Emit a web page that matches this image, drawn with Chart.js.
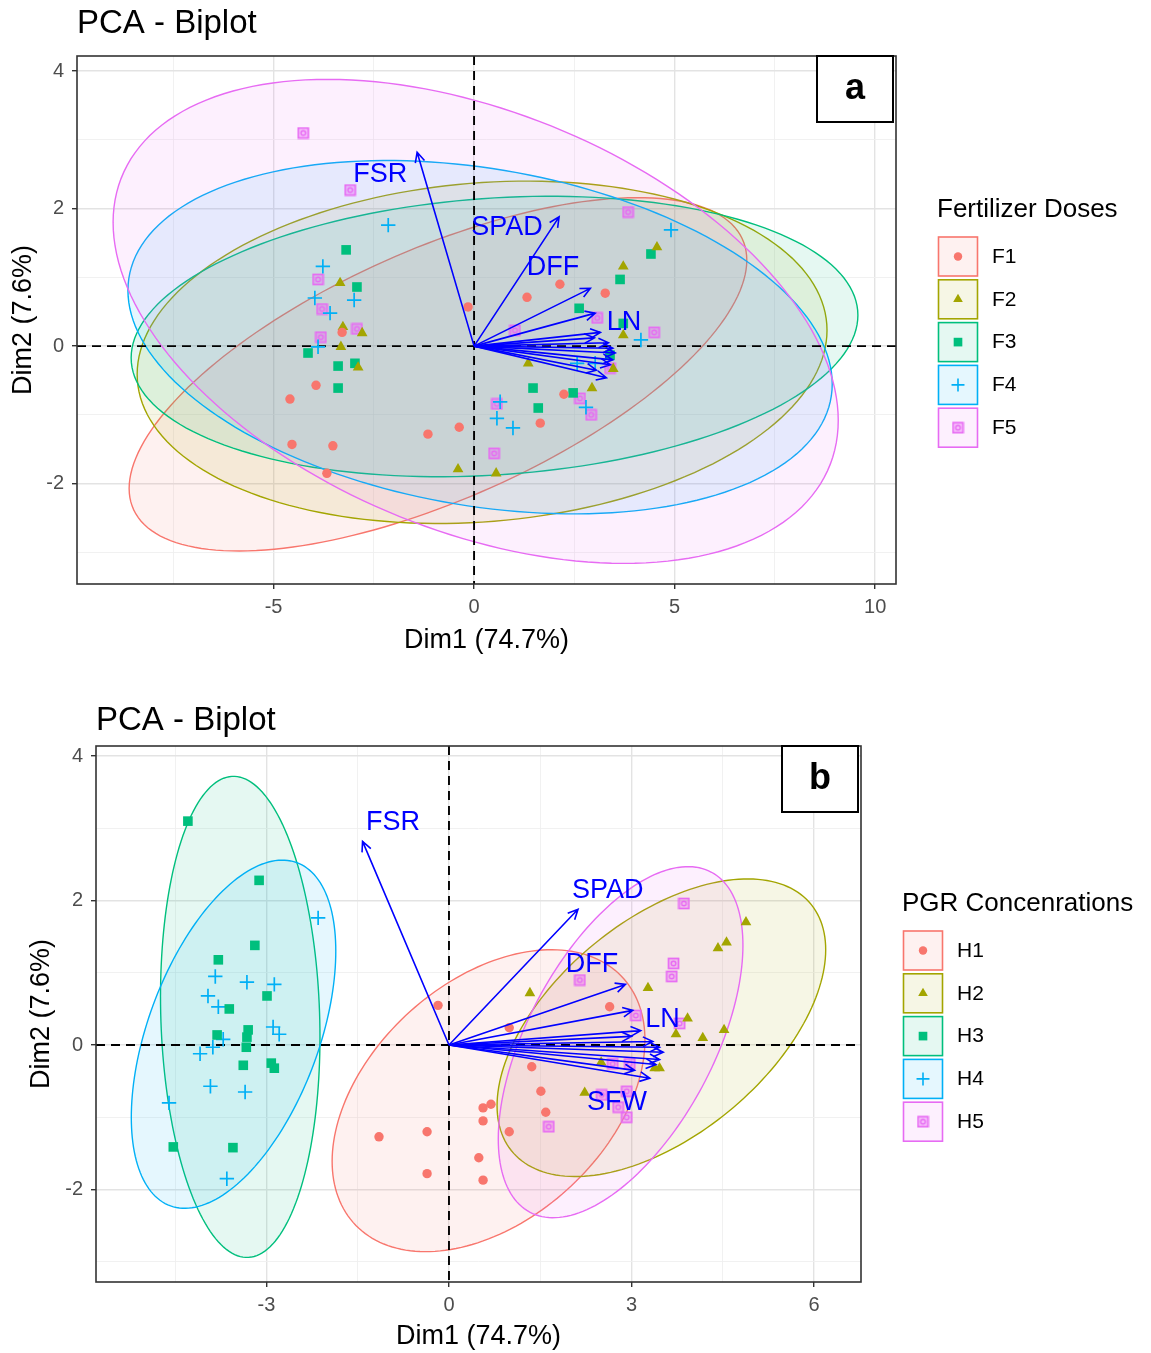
<!DOCTYPE html>
<html>
<head>
<meta charset="utf-8">
<title>PCA - Biplot</title>
<script src="https://cdn.jsdelivr.net/npm/chart.js@4.4.0/dist/chart.umd.min.js"></script>
<style>
    body { margin: 0; background: #ffffff; }
    #wrap { position: relative; width: 1151px; height: 1353px; }
    #chartA { position: absolute; left: 0; top: 0; }
    #chartB { position: absolute; left: 0; top: 690px; }
</style>
</head>
<body>
<div id="wrap">
    <canvas id="chartA" width="1151" height="665"></canvas>
    <canvas id="chartB" width="1151" height="663"></canvas>
</div>
<script>
// ---- data (PCA coordinates, Dim1 / Dim2) ----

// panel a : individuals grouped by fertilizer dose
const fertLabels = ['F1', 'F2', 'F3', 'F4', 'F5'];
const fertF1 = [[-0.15, 0.57], [-3.29, 0.20], [-3.94, -0.57], [-4.59, -0.77], [-4.54, -1.43], [-3.52, -1.45], [-1.15, -1.28], [-0.37, -1.18], [-3.67, -1.85], [2.14, 0.90], [1.32, 0.71], [3.27, 0.77], [2.24, -0.70], [1.65, -1.12]];
const fertF2 = [[-3.34, 0.92], [-3.27, 0.28], [-2.79, 0.19], [-3.32, -0.01], [-2.89, -0.31], [-0.40, -1.79], [0.55, -1.85], [3.72, 1.16], [4.56, 1.44], [1.35, -0.25], [2.94, -0.61], [3.47, -0.33], [3.72, 0.16]];
const fertF3 = [[-3.19, 1.40], [-2.92, 0.86], [-4.14, -0.10], [-3.39, -0.29], [-2.97, -0.25], [-3.39, -0.61], [4.41, 1.34], [3.64, 0.97], [2.62, 0.55], [3.72, 0.33], [1.47, -0.61], [1.60, -0.90], [2.47, -0.68], [3.39, -0.13]];
const fertF4 = [[-2.14, 1.76], [-3.77, 1.16], [-3.97, 0.70], [-2.99, 0.67], [-3.59, 0.48], [-3.89, -0.01], [4.91, 1.69], [4.16, 0.09], [2.57, -0.25], [3.02, -0.25], [0.65, -0.81], [0.57, -1.05], [0.97, -1.19], [2.79, -0.89]];
const fertF5 = [[-4.26, 3.10], [-3.09, 2.27], [-3.89, 0.97], [-3.79, 0.54], [-2.92, 0.25], [-3.82, 0.13], [3.84, 1.95], [1.02, 0.23], [3.07, 0.41], [4.49, 0.20], [0.57, -0.84], [2.64, -0.76], [2.92, -1.00], [0.50, -1.56], [3.39, -0.32]];

// ellipses of panel a: centre, half width, half height, y offset at the rightmost point
const fertEllCx = [-0.90, 0.20, 0.51, 0.15, 0.04];
const fertEllCy = [-0.41, -0.09, 0.14, 0.13, 0.36];
const fertEllRx = [7.70, 8.60, 9.06, 8.78, 9.04];
const fertEllRy = [2.57, 2.49, 2.04, 2.57, 3.52];
const fertEllTilt = [1.66, 0.32, 0.31, -0.68, -1.44];

// panel b : individuals grouped by PGR concentration
const pgrLabels = ['H1', 'H2', 'H3', 'H4', 'H5'];
const pgrH1 = [[-0.18, 0.55], [0.99, 0.24], [2.64, 0.53], [1.36, -0.30], [1.51, -0.64], [1.59, -0.93], [0.56, -0.87], [0.69, -0.82], [0.56, -1.05], [0.99, -1.20], [-1.15, -1.27], [-0.36, -1.20], [-0.36, -1.78], [0.49, -1.56], [0.56, -1.87]];
const pgrH2 = [[4.88, 1.70], [4.56, 1.42], [4.42, 1.34], [3.27, 0.79], [3.92, 0.37], [3.73, 0.15], [4.52, 0.21], [4.17, 0.10], [1.33, 0.72], [2.50, -0.24], [2.23, -0.66], [3.46, -0.32], [3.38, -0.32]];
const pgrH3 = [[-4.29, 3.10], [-3.12, 2.28], [-3.19, 1.38], [-3.79, 1.18], [-2.99, 0.68], [-3.61, 0.50], [-3.81, 0.14], [-3.30, 0.21], [-3.32, 0.11], [-3.33, -0.03], [-3.38, -0.28], [-2.92, -0.25], [-2.87, -0.32], [-4.53, -1.41], [-3.55, -1.42]];
const pgrH4 = [[-2.15, 1.76], [-3.84, 0.95], [-3.32, 0.87], [-2.87, 0.84], [-3.96, 0.68], [-3.79, 0.53], [-2.89, 0.25], [-2.79, 0.15], [-3.71, 0.08], [-3.88, -0.03], [-4.09, -0.12], [-3.92, -0.57], [-3.35, -0.65], [-4.60, -0.80], [-3.65, -1.85]];
const pgrH5 = [[3.86, 1.96], [2.15, 0.90], [3.69, 1.13], [3.66, 0.95], [3.07, 0.41], [3.79, 0.30], [2.69, -0.26], [2.97, -0.26], [2.92, -0.64], [2.78, -0.86], [2.92, -1.00], [2.51, -0.69], [1.64, -1.13]];

const pgrEllCx = [0.65, 3.49, -3.43, -3.54, 2.82];
const pgrEllCy = [-0.77, 0.24, 0.39, 0.15, 0.04];
const pgrEllRx = [2.57, 2.70, 1.31, 1.68, 2.01];
const pgrEllRy = [2.09, 2.06, 3.33, 2.41, 2.43];
const pgrEllTilt = [0.84, 1.08, -0.28, 1.15, 1.34];

// variable arrows (same loadings in both panels); only some names are readable
const varNames = ['FSR', 'SPAD', 'DFF', '', 'LN', '', '', '', '', '', '', 'SFW', ''];
const varX = [-1.42, 2.12, 2.90, 3.02, 3.15, 3.00, 3.35, 3.46, 3.52, 3.46, 3.40, 3.30, 3.05];
const varY = [2.82, 1.88, 0.84, 0.48, 0.20, 0.12, 0.05, -0.03, -0.10, -0.20, -0.27, -0.46, -0.35];

// where the repelled labels ended up, per panel (index into varNames)
const labelIdxA = [0, 1, 2, 4];
const labelXA = [-2.34, 0.82, 1.97, 3.74];
const labelYA = [2.49, 1.73, 1.15, 0.35];
const labelIdxB = [0, 1, 2, 4, 11];
const labelXB = [-0.92, 2.61, 2.35, 3.51, 2.76];
const labelYB = [3.08, 2.14, 1.11, 0.35, -0.79];

// ---- styles ----
const groupColors = ['#F8766D', '#A3A500', '#00BF7D', '#00B0F6', '#E76BF3'];
const FONT = "'Liberation Sans', Arial, Helvetica, sans-serif";
Chart.defaults.font.family = FONT;

function withAlpha(hex, a) {
    const n = parseInt(hex.slice(1), 16);
    return 'rgba(' + (n >> 16) + ',' + ((n >> 8) & 255) + ',' + (n & 255) + ',' + a + ')';
}

// square with a small ring inside, used for the fifth group
function squareRing(color) {
    const c = document.createElement('canvas');
    c.width = 13;
    c.height = 13;
    const g = c.getContext('2d');
    g.fillStyle = withAlpha(color, 0.35);
    g.fillRect(1.5, 1.5, 10, 10);
    g.strokeStyle = color;
    g.lineWidth = 1.7;
    g.strokeRect(1.5, 1.5, 10, 10);
    g.beginPath();
    g.arc(6.5, 6.5, 2.3, 0, Math.PI * 2);
    g.lineWidth = 1.4;
    g.stroke();
    return c;
}

const markerStyles = ['circle', 'triangle', 'rect', 'cross', squareRing(groupColors[4])];
const markerRadius = [4.7, 6.2, 6.8, 7.2, 6.5];
const markerBorder = [0, 0, 0, 1.7, 0];

function groupDatasets(groups, labels) {
    return groups.map((pts, i) => ({
        label: labels[i],
        data: pts.map(p => ({ x: p[0], y: p[1] })),
        pointStyle: markerStyles[i],
        pointRadius: markerRadius[i],
        pointBorderWidth: markerBorder[i],
        backgroundColor: groupColors[i],
        borderColor: groupColors[i],
        showLine: false
    }));
}

const isMajor = (v, m) => Math.abs(v / m - Math.round(v / m)) < 1e-6;

function axis(min, max, step, major, title, titlePad, tickPad, fit) {
    return {
        type: 'linear',
        min: min,
        max: max,
        border: { display: false },
        grid: {
            color: c => isMajor(c.tick.value, major) ? '#e3e3e3' : '#efefef',
            lineWidth: c => isMajor(c.tick.value, major) ? 1.4 : 0.9,
            tickColor: c => isMajor(c.tick.value, major) ? '#333333' : 'rgba(0,0,0,0)',
            tickLength: 5,
            tickWidth: 1.4
        },
        ticks: {
            stepSize: step,
            includeBounds: false,
            autoSkip: false,
            maxRotation: 0,
            padding: tickPad,
            color: '#4d4d4d',
            font: { size: 20 },
            callback: v => isMajor(v, major) ? String(v) : ''
        },
        title: { display: true, text: title, color: '#000000', font: { size: 27 }, padding: titlePad },
        afterFit: fit
    };
}

// ellipses, dashed zero lines, arrows, labels, border, tag, legend and title
const biplotPlugin = {
    id: 'biplot',
    beforeDatasetsDraw(chart, args, o) {
        const { ctx, chartArea: a, scales: { x, y } } = chart;
        ctx.save();
        ctx.beginPath();
        ctx.rect(a.left, a.top, a.width, a.height);
        ctx.clip();

        const e = o.ellipses;
        for (let i = 0; i < e.cx.length; i++) {
            const b = Math.sqrt(e.ry[i] * e.ry[i] - e.tilt[i] * e.tilt[i]);
            ctx.beginPath();
            for (let k = 0; k <= 180; k++) {
                const t = k / 180 * Math.PI * 2;
                const px = x.getPixelForValue(e.cx[i] + e.rx[i] * Math.cos(t));
                const py = y.getPixelForValue(e.cy[i] + e.tilt[i] * Math.cos(t) + b * Math.sin(t));
                if (k === 0) ctx.moveTo(px, py); else ctx.lineTo(px, py);
            }
            ctx.closePath();
            ctx.fillStyle = withAlpha(groupColors[i], 0.1);
            ctx.fill();
            ctx.strokeStyle = groupColors[i];
            ctx.lineWidth = 1.4;
            ctx.stroke();
        }

        const ox = x.getPixelForValue(0);
        const oy = y.getPixelForValue(0);
        ctx.setLineDash([9, 6]);
        ctx.strokeStyle = '#000000';
        ctx.lineWidth = 1.9;
        ctx.beginPath();
        ctx.moveTo(a.left, oy);
        ctx.lineTo(a.right, oy);
        ctx.moveTo(ox, a.top);
        ctx.lineTo(ox, a.bottom);
        ctx.stroke();
        ctx.restore();
    },
    afterDatasetsDraw(chart, args, o) {
        const { ctx, chartArea: a, scales: { x, y } } = chart;
        const ox = x.getPixelForValue(0);
        const oy = y.getPixelForValue(0);

        // arrows
        ctx.save();
        ctx.strokeStyle = '#0000FF';
        ctx.lineWidth = 1.6;
        varX.forEach((vx, i) => {
            const tx = x.getPixelForValue(vx);
            const ty = y.getPixelForValue(varY[i]);
            const ang = Math.atan2(ty - oy, tx - ox);
            const hl = 11, ha = Math.PI / 7;
            ctx.beginPath();
            ctx.moveTo(ox, oy);
            ctx.lineTo(tx, ty);
            ctx.moveTo(tx - hl * Math.cos(ang - ha), ty - hl * Math.sin(ang - ha));
            ctx.lineTo(tx, ty);
            ctx.lineTo(tx - hl * Math.cos(ang + ha), ty - hl * Math.sin(ang + ha));
            ctx.stroke();
        });

        // variable labels
        ctx.fillStyle = '#0000FF';
        ctx.font = '27px ' + FONT;
        ctx.textAlign = 'center';
        ctx.textBaseline = 'middle';
        o.labels.idx.forEach((vi, k) => {
            ctx.fillText(varNames[vi], x.getPixelForValue(o.labels.x[k]), y.getPixelForValue(o.labels.y[k]));
        });

        // panel border
        ctx.strokeStyle = '#333333';
        ctx.lineWidth = 1.6;
        ctx.strokeRect(a.left, a.top, a.width, a.height);

        // panel tag
        ctx.fillStyle = '#ffffff';
        ctx.fillRect(a.right - 79, a.top, 76, 66);
        ctx.strokeStyle = '#000000';
        ctx.lineWidth = 2;
        ctx.strokeRect(a.right - 79, a.top, 76, 66);
        ctx.fillStyle = '#000000';
        ctx.font = 'bold 36px ' + FONT;
        ctx.fillText(o.tag, a.right - 41, a.top + 33);

        // title
        ctx.textAlign = 'left';
        ctx.font = '33px ' + FONT;
        ctx.fillText('PCA - Biplot', a.left, o.titleY);

        // legend
        const lx = a.right + 41;
        const mid = (a.top + a.bottom) / 2;
        ctx.font = '26px ' + FONT;
        ctx.fillText(o.legendTitle, lx, mid - 110);
        o.legendLabels.forEach((lab, i) => {
            const top = mid - 83 + i * 42.8;
            ctx.fillStyle = withAlpha(groupColors[i], 0.1);
            ctx.fillRect(lx + 1.5, top, 39, 39);
            ctx.strokeStyle = groupColors[i];
            ctx.lineWidth = 1.6;
            ctx.strokeRect(lx + 1.5, top, 39, 39);
            ctx.fillStyle = groupColors[i];
            Chart.helpers.drawPoint(ctx, {
                pointStyle: markerStyles[i],
                radius: markerRadius[i] * 0.9,
                borderWidth: markerBorder[i],
                rotation: 0
            }, lx + 21, top + 19.5);
            ctx.fillStyle = '#000000';
            ctx.font = '21px ' + FONT;
            ctx.fillText(lab, lx + 55, top + 20);
        });
        ctx.restore();
    }
};

function makeBiplot(id, cfg) {
    return new Chart(document.getElementById(id), {
        type: 'scatter',
        data: { datasets: groupDatasets(cfg.groups, cfg.legendLabels) },
        options: {
            responsive: false,
            animation: false,
            events: [],
            layout: { padding: { left: 0, right: cfg.padRight, top: 56, bottom: 0 } },
            scales: {
                x: axis(cfg.xMin, cfg.xMax, cfg.xStep, cfg.xMajor, 'Dim1 (74.7%)',
                    { top: 0, bottom: cfg.xTitlePad }, cfg.xTickPad, s => { s.height = cfg.xHeight; }),
                y: axis(cfg.yMin, cfg.yMax, 1, 2, 'Dim2 (7.6%)',
                    { top: cfg.yTitlePad, bottom: 0 }, 8, s => { s.width = cfg.yWidth; })
            },
            plugins: {
                legend: { display: false },
                tooltip: { enabled: false },
                biplot: {
                    ellipses: cfg.ellipses,
                    labels: cfg.labels,
                    tag: cfg.tag,
                    titleY: cfg.titleY,
                    legendTitle: cfg.legendTitle,
                    legendLabels: cfg.legendLabels
                }
            }
        },
        plugins: [biplotPlugin]
    });
}

makeBiplot('chartA', {
    groups: [fertF1, fertF2, fertF3, fertF4, fertF5],
    legendLabels: fertLabels,
    legendTitle: 'Fertilizer Doses',
    ellipses: { cx: fertEllCx, cy: fertEllCy, rx: fertEllRx, ry: fertEllRy, tilt: fertEllTilt },
    labels: { idx: labelIdxA, x: labelXA, y: labelYA },
    tag: 'a',
    titleY: 24,
    xMin: -9.9, xMax: 10.52, xStep: 2.5, xMajor: 5,
    yMin: -3.46, yMax: 4.22,
    padRight: 255, xHeight: 81, yWidth: 77,
    xTitlePad: 8, yTitlePad: 7, xTickPad: 6
});

makeBiplot('chartB', {
    groups: [pgrH1, pgrH2, pgrH3, pgrH4, pgrH5],
    legendLabels: pgrLabels,
    legendTitle: 'PGR Concenrations',
    ellipses: { cx: pgrEllCx, cy: pgrEllCy, rx: pgrEllRx, ry: pgrEllRy, tilt: pgrEllTilt },
    labels: { idx: labelIdxB, x: labelXB, y: labelYB },
    tag: 'b',
    titleY: 31,
    xMin: -5.8, xMax: 6.77, xStep: 1.5, xMajor: 3,
    yMin: -3.28, yMax: 4.14,
    padRight: 290, xHeight: 71, yWidth: 96,
    xTitlePad: 0, yTitlePad: 25, xTickPad: 6
});
</script>
</body>
</html>
